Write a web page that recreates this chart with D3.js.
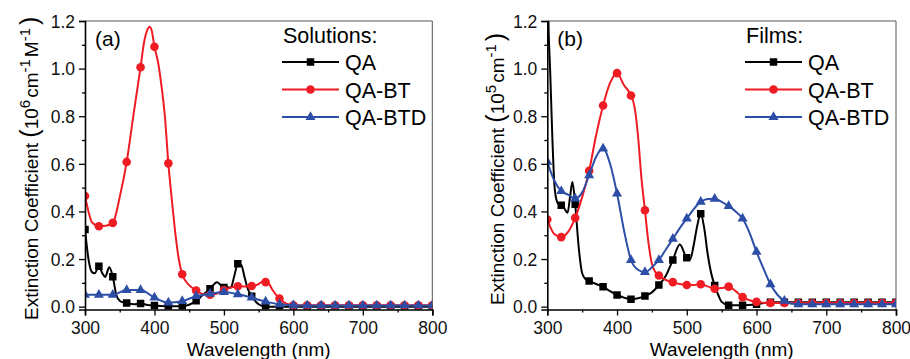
<!DOCTYPE html>
<html>
<head>
<meta charset="utf-8">
<script src="https://cdn.jsdelivr.net/npm/d3@7"></script>
<style>
  body { margin: 0; background: #fff; }
  svg { display: block; font-family: Arial, "Liberation Sans", sans-serif; }
</style>
</head>
<body>
<svg id="chart" width="910" height="359"></svg>
<script>
// ---- data: [wavelength nm, value] ----
var xTicks = [300, 400, 500, 600, 700, 800];
var yTicks = [0, 0.2, 0.4, 0.6, 0.8, 1.0, 1.2];

var tail = function(v) {
  return [[620, v], [640, v], [660, v], [680, v], [700, v], [720, v], [740, v], [760, v], [780, v], [800, v]];
};

// (a) solutions
var qa_sol = [[300,0.324],[305,0.2],[310,0.145],[314,0.14],[320,0.17],[325,0.14],[329,0.125],[335,0.165],[340,0.126],
  [345,0.05],[350,0.025],[355,0.018],[360,0.015],[370,0.01],[380,0.013],[390,0.007],[400,0.005],[420,0.002],
  [440,0.002],[450,0.008],[460,0.025],[470,0.05],[480,0.075],[490,0.103],[500,0.08],[510,0.08],[515,0.13],
  [520,0.18],[525,0.175],[530,0.12],[535,0.07],[540,0.044],[550,0.01],[560,0.0],[580,0.0],[600,0.0]].concat(tail(0.0));
var qabt_sol = [[300,0.465],[305,0.4],[310,0.355],[320,0.338],[330,0.34],[340,0.352],[350,0.46],[360,0.608],[370,0.81],
  [380,1.006],[385,1.11],[390,1.165],[393,1.176],[396,1.16],[400,1.092],[405,1.03],[410,0.93],[415,0.8],[420,0.602],
  [425,0.45],[430,0.31],[435,0.2],[440,0.136],[450,0.09],[460,0.068],[470,0.052],[480,0.05],[490,0.055],[500,0.07],
  [510,0.08],[520,0.086],[530,0.085],[540,0.087],[550,0.095],[555,0.104],[560,0.103],[565,0.095],[570,0.07],
  [580,0.034],[590,0.012],[600,0.006]].concat(tail(0.006));
var qabtd_sol = [[300,0.05],[320,0.05],[340,0.05],[360,0.07],[380,0.07],[400,0.038],[420,0.017],[440,0.023],[460,0.044],
  [480,0.054],[500,0.061],[520,0.052],[540,0.038],[560,0.021],[580,0.01],[600,0.006]].concat(tail(0.005));

// (b) films
var qa_film = [[300,1.45],[302,1.15],[304,1.0],[307,0.73],[310,0.52],[313,0.45],[316,0.43],[320,0.426],[325,0.41],
  [329,0.394],[333,0.47],[336,0.524],[340,0.43],[345,0.25],[350,0.14],[355,0.115],[360,0.108],[370,0.095],[380,0.084],
  [390,0.065],[400,0.049],[410,0.038],[420,0.031],[430,0.035],[440,0.045],[450,0.06],[460,0.091],[470,0.13],
  [480,0.196],[490,0.261],[500,0.205],[505,0.2],[510,0.26],[515,0.34],[520,0.39],[525,0.33],[530,0.22],[535,0.14],
  [540,0.089],[545,0.05],[550,0.02],[560,0.006],[580,0.006],[600,0.01]].concat(tail(0.018));
var qabt_film = [[300,0.366],[310,0.305],[320,0.292],[330,0.315],[340,0.373],[350,0.46],[360,0.571],[370,0.72],
  [380,0.845],[390,0.94],[400,0.981],[410,0.93],[420,0.887],[425,0.84],[430,0.72],[435,0.54],[440,0.405],[445,0.27],
  [450,0.18],[455,0.145],[460,0.131],[470,0.112],[480,0.103],[490,0.095],[500,0.091],[510,0.091],[520,0.094],
  [530,0.085],[540,0.075],[550,0.078],[560,0.084],[570,0.065],[580,0.04],[590,0.027],[600,0.02]].concat(tail(0.015));
var qabtd_film = [[300,0.608],[310,0.53],[320,0.485],[330,0.47],[340,0.454],[350,0.48],[360,0.552],[370,0.63],
  [380,0.664],[390,0.6],[400,0.475],[410,0.32],[420,0.196],[430,0.155],[440,0.145],[450,0.165],[460,0.196],
  [470,0.24],[480,0.285],[490,0.33],[500,0.37],[510,0.41],[520,0.44],[530,0.452],[540,0.453],[550,0.44],
  [560,0.422],[570,0.4],[580,0.37],[590,0.31],[600,0.23],[610,0.16]].concat([[620,0.094],[630,0.05],[640,0.024],[650,0.012]]).concat(tail(0.01).slice(2));

var seriesNames = ['QA', 'QA-BT', 'QA-BTD'];
var colors = ['#000000', '#f01c24', '#2c4ea6'];
var symbols = [d3.symbolSquare, d3.symbolCircle, d3.symbolTriangle];
var symSizes = [56, 58, 44];

var svg = d3.select('#chart');

function draw_panel(opt) {
  var x = d3.scaleLinear().domain([300, 800]).range([opt.left, opt.right]);
  var y = d3.scaleLinear().domain([-0.012, 1.2]).range([309.5, 21]);
  var g = svg.append('g');

  var clipId = 'clip_' + opt.id;
  svg.append('clipPath').attr('id', clipId)
    .append('rect')
    .attr('x', opt.left).attr('y', 21)
    .attr('width', opt.right - opt.left).attr('height', 309.5 - 21);

  // frame top/right
  g.append('path')
    .attr('d', 'M' + opt.left + ',21H' + opt.right + 'V309.5')
    .style('fill', 'none').style('stroke', '#555').style('stroke-width', '1px');

  var plot = g.append('g').attr('clip-path', 'url(#' + clipId + ')');
  var line = d3.line()
    .x(function(d) { return x(d[0]); })
    .y(function(d) { return y(d[1]); })
    .curve(d3.curveMonotoneX);

  opt.series.forEach(function(s, i) {
    plot.append('path')
      .datum(s)
      .attr('d', line)
      .style('fill', 'none')
      .style('stroke', colors[i])
      .style('stroke-width', '2px');
    plot.selectAll('.mk' + i)
      .data(s.filter(function(d) { return d[0] % 20 === 0; }))
      .enter()
      .append('path')
      .attr('class', 'mk' + i)
      .attr('transform', function(d) { return 'translate(' + x(d[0]) + ',' + y(d[1]) + ')'; })
      .attr('d', d3.symbol().type(symbols[i]).size(symSizes[i]))
      .style('fill', colors[i]);
  });

  // axes
  var xAxis = g.append('g').attr('transform', 'translate(0,309.5)')
    .call(d3.axisBottom(x).tickValues(xTicks).tickSize(6).tickPadding(4));
  g.append('g').attr('transform', 'translate(0,309.5)')
    .call(d3.axisBottom(x).tickValues([350, 450, 550, 650, 750]).tickSize(3).tickFormat(''))
    .select('.domain').remove();
  var yAxis = g.append('g').attr('transform', 'translate(' + opt.left + ',0)')
    .call(d3.axisLeft(y).tickValues(yTicks).tickSize(6).tickPadding(4).tickFormat(d3.format('.1f')));
  g.append('g').attr('transform', 'translate(' + opt.left + ',0)')
    .call(d3.axisLeft(y).tickValues([0.1, 0.3, 0.5, 0.7, 0.9, 1.1]).tickSize(3).tickFormat(''))
    .select('.domain').remove();

  g.selectAll('.domain').style('stroke', '#000').style('stroke-width', '1.6px');
  g.selectAll('.tick line').style('stroke', '#000').style('stroke-width', '1.3px');
  g.selectAll('.tick text').style('font-size', '17.5px').style('fill', '#111')
    .style('font-family', 'Arial, "Liberation Sans", sans-serif');
  xAxis.selectAll('.tick text').attr('dy', '0.85em');
  yAxis.selectAll('.tick text').attr('dy', '0.36em');

  // x title
  g.append('text')
    .attr('x', (opt.left + opt.right) / 2)
    .attr('y', 356)
    .attr('text-anchor', 'middle')
    .style('font-size', '19px')
    .text('Wavelength (nm)');

  // y title
  var yt = g.append('text')
    .attr('transform', 'translate(' + opt.ytitleX + ',' + opt.ytitleY + ') rotate(-90)')
    .style('font-size', '19px');
  opt.yparts.forEach(function(p) {
    var t = yt.append('tspan').text(p[0]);
    if (p[1]) t.attr('dy', p[1]);
    if (p[2]) t.style('font-size', p[2]);
    if (p[3]) t.attr('dx', p[3]);
  });

  // panel label
  g.append('text')
    .attr('x', opt.left + 10).attr('y', 46)
    .style('font-size', '21px')
    .text(opt.label);

  // legend
  var lg = g.append('g');
  lg.append('text')
    .attr('x', opt.legX + 1).attr('y', 42.5)
    .style('font-size', '21.5px')
    .text(opt.legTitle);
  seriesNames.forEach(function(n, i) {
    var ly = 62 + i * 27.5;
    lg.append('line')
      .attr('x1', opt.legX).attr('x2', opt.legX + 57)
      .attr('y1', ly).attr('y2', ly)
      .style('stroke', colors[i]).style('stroke-width', '2px');
    lg.append('path')
      .attr('transform', 'translate(' + (opt.legX + 28.5) + ',' + ly + ')')
      .attr('d', d3.symbol().type(symbols[i]).size(symSizes[i]))
      .style('fill', colors[i]);
    lg.append('text')
      .attr('x', opt.legX + 63).attr('y', ly + 8)
      .style('font-size', '21.5px')
      .text(n);
  });
}

draw_panel({
  id: 'a', left: 85, right: 432.3, label: '(a)', legTitle: 'Solutions:', legX: 282,
  series: [qa_sol, qabt_sol, qabtd_sol],
  ytitleX: 37.5, ytitleY: 320,
  yparts: [['Extinction Coefficient '], ['(', null, '25px'], ['10', null, '19px'], ['6', '-8', '15px'],
           ['cm', '8', '19px', '2'], ['-1', '-8', '15px'], ['M', '8', '19px', '2'], ['-1', '-8', '15px'], [')', '8', '25px', '3']]
});

draw_panel({
  id: 'b', left: 547.3, right: 896, label: '(b)', legTitle: 'Films:', legX: 745,
  series: [qa_film, qabt_film, qabtd_film],
  ytitleX: 503.5, ytitleY: 305,
  yparts: [['Extinction Coefficient '], ['(', null, '25px'], ['10', null, '19px'], ['5', '-8', '15px'],
           ['cm', '8', '19px', '2'], ['-1', '-8', '15px'], [')', '8', '25px', '3']]
});
</script>
</body>
</html>
